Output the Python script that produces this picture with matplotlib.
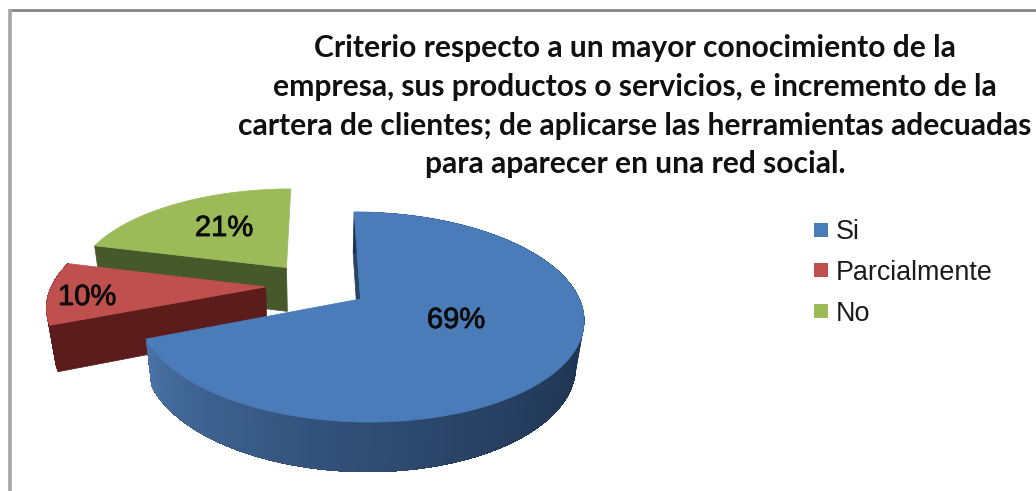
import numpy as np
import matplotlib
matplotlib.use('Agg')
import matplotlib.pyplot as plt
import matplotlib.patheffects as pe
from matplotlib.lines import Line2D
from matplotlib.patches import Polygon

categories = ['Si', 'Parcialmente', 'No']
percent = [69, 10, 21]
title_lines = [
    'Criterio respecto a un mayor conocimiento de la',
    'empresa, sus productos o servicios, e incremento de la',
    'cartera de clientes; de aplicarse las herramientas adecuadas',
    'para aparecer en una red social.',
]
top_colors = ['#4a7cba', '#c0504d', '#9bbb59']
side_colors = ['#2a4264', '#5b1c1b', '#47592a']

# 3d pie settings
cx, cy = 317, 285.5
radius_x, radius_y = 214, 97.4
persp, depth_persp = 0.168, 0.03
thickness = 46
explode = 0.24


def project(x, y, bottom=False):
    w = 1 + persp * y + (depth_persp if bottom else 0)
    h = thickness if bottom else 0
    return cx + radius_x * x / w, cy + (h - radius_y * y) / w


def rim(a, ox, oy):
    return ox + np.sin(a), oy + np.cos(a)


def mix(c1, c2, t):
    c1 = np.array(matplotlib.colors.to_rgb(c1))
    c2 = np.array(matplotlib.colors.to_rgb(c2))
    return tuple(c1 + (c2 - c1) * t)


fig = plt.figure(figsize=(10.36, 4.91), dpi=100)
ax = fig.add_axes([0, 0, 1, 1])
ax.set_xlim(0, 1036)
ax.set_ylim(491, 0)
ax.axis('off')

# chart frame, only the top and left sides show
ax.plot([9.5, 1036], [9.5, 9.5], color='#858585', lw=2, solid_capstyle='butt')
ax.plot([9.5, 9.5], [9, 491], color='#a5a5a5', lw=2.6, solid_capstyle='butt')

edges = np.cumsum([0] + percent) / sum(percent) * 2 * np.pi

# back slices first so the nearer ones cover them
for i in [2, 1, 0]:
    a0, a1 = edges[i], edges[i + 1]
    mid = (a0 + a1) / 2
    ox, oy = explode * np.sin(mid), explode * np.cos(mid)
    arc = np.linspace(a0, a1, 160)
    xs, ys = rim(arc, ox, oy)

    # flat cut face on the leading edge
    ex, ey = rim(a0, ox, oy)
    face = [project(ox, oy), project(ex, ey), project(ex, ey, True), project(ox, oy, True)]
    ax.add_patch(Polygon(face, fc=side_colors[i], ec=side_colors[i], lw=0.5))

    # outer wall, each strip runs to the end of the arc so no seams show
    # the green slice has its rim at the back, so it has no visible wall
    top_pts = [project(x, y) for x, y in zip(xs, ys)]
    bot_pts = [project(x, y, True) for x, y in zip(xs, ys)]
    if i != 2:
        for j in range(len(arc) - 1):
            if i == 0:
                t = np.clip((arc[j] - np.pi / 2) / (a1 - np.pi / 2), 0, 1)
                col = mix('#1e3350', '#4a74a8', t ** 1.6)
            else:
                col = side_colors[i]
            ax.add_patch(Polygon(top_pts[j:] + bot_pts[j:][::-1], fc=col, ec='none'))

    outline = [project(ox, oy)] + top_pts
    ax.add_patch(Polygon(outline, fc=top_colors[i], ec=top_colors[i], lw=0.5))

label_pos = [(456, 320), (87, 297), (224, 228)]
for val, pos in zip(percent, label_pos):
    ax.text(pos[0], pos[1], '%d%%' % val, ha='center', va='center', fontsize=21,
            family='Liberation Sans', color='#0c0c0c',
            path_effects=[pe.withStroke(linewidth=0.6, foreground='#0c0c0c')])

title_y = [57, 96, 135, 173]
for line, y in zip(title_lines, title_y):
    ax.text(635, y, line, ha='center', va='baseline', fontsize=21.6, family='Lato',
            fontweight='bold', color='#101010')

handles = [Line2D([], [], ls='', marker='s', ms=9.5, color=c, mew=0) for c in top_colors]
ax.legend(handles, categories, loc='upper left', bbox_to_anchor=(806 / 1036, 1 - 219 / 491),
          frameon=False, handletextpad=0.0, handlelength=1.115, labelspacing=0.55,
          borderpad=0, borderaxespad=0,
          prop={'family': 'Liberation Sans', 'size': 19.4}, labelcolor='#1a1a1a')

fig.savefig('out.png', dpi=100)
